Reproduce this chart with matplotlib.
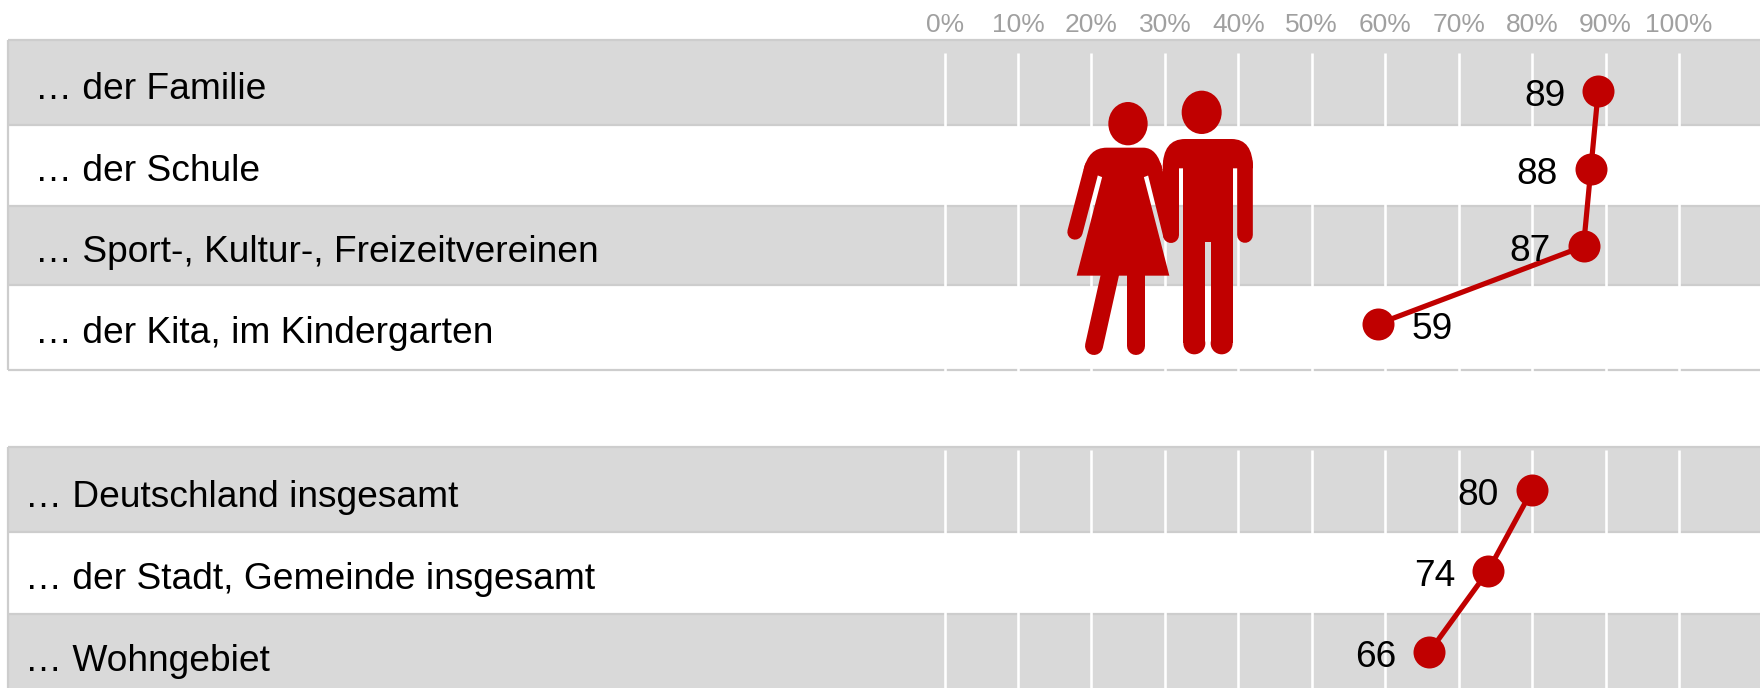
#!/usr/bin/env python3
"""Slope style dot chart: agreement per setting, with a couple pictogram in the middle."""

import matplotlib
matplotlib.use('Agg')
import matplotlib.pyplot as plt
from matplotlib.patches import Ellipse, PathPatch, Polygon
from matplotlib.path import Path
from matplotlib.transforms import Affine2D

# data
top_labels = ['… der Familie', '… der Schule', '… Sport-, Kultur-, Freizeitvereinen',
              '… der Kita, im Kindergarten']
top_values = [89, 88, 87, 59]
bottom_labels = ['… Deutschland insgesamt', '… der Stadt, Gemeinde insgesamt', '… Wohngebiet']
bottom_values = [80, 74, 66]
tick_values = [0, 10, 20, 30, 40, 50, 60, 70, 80, 90, 100]
tick_labels = ['0%', '10%', '20%', '30%', '40%', '50%', '60%', '70%', '80%', '90%', '100%']

# layout, everything in pixels of the 1760x688 picture
W, H = 1760, 688
X0, X100 = 944.6, 1679.0
TOP_EDGES = [40, 125, 206, 285, 370]
BOTTOM_EDGES = [447, 532, 614, 700]
TOP_BASELINES = [99, 181, 262, 343]
BOTTOM_BASELINES = [507, 589, 671]

RED = '#C00000'
GREY = '#D9D9D9'
BORDER = '#CDCDCD'
TICK_GREY = '#A0A0A0'
PX = 0.72  # one pixel in points at dpi 100
LABEL_SIZE = 26.7

plt.rcParams['font.family'] = ['Liberation Sans', 'DejaVu Sans']


def draw_panel(bg, edges, labels, baselines, text_x, grid_top):
    # alternating rows, the first one is grey
    for i in range(len(labels)):
        if i % 2 == 0:
            bg.fill_between([8, W], edges[i], edges[i + 1], color=GREY, lw=0, zorder=1)
    bg.hlines(edges, 8, W, color=BORDER, lw=2.2 * PX, zorder=2)
    bg.vlines(8, edges[0], min(edges[-1], H), color=BORDER, lw=2.2 * PX, zorder=2)
    grid_x = [X0 + (X100 - X0) * t / 100 for t in tick_values]
    bg.vlines(grid_x, grid_top, min(edges[-1] + 2, H), color='white', lw=2.6 * PX, zorder=3)
    for label, y in zip(labels, baselines):
        bg.text(text_x, y, label, fontsize=LABEL_SIZE, color='black', va='baseline', ha='left', zorder=4)


def draw_couple(bg):
    # pictogram outline is in its own coordinates (3x), moved to place by the transform
    tr = Affine2D().scale(1 / 3).translate(1040, 80) + bg.transData
    style = dict(facecolor=RED, edgecolor='none', transform=tr, zorder=5)

    def stroke(xs, ys, width):
        bg.plot(xs, ys, color=RED, lw=width / 3 * PX, solid_capstyle='round', transform=tr, zorder=5)

    # woman
    bg.add_patch(Ellipse((264, 131), 118, 130, **style))
    shoulders = Path([(131, 270), (145, 203), (200, 203), (310, 203), (352, 203), (368, 270),
                      (310, 292), (188, 292), (131, 270)],
                     [Path.MOVETO, Path.CURVE3, Path.CURVE3, Path.LINETO, Path.CURVE3, Path.CURVE3,
                      Path.LINETO, Path.LINETO, Path.CLOSEPOLY])
    bg.add_patch(PathPatch(shoulders, **style))
    bg.add_patch(Polygon([(188, 285), (310, 285), (388, 587), (110, 587)], **style))
    stroke([156, 105], [262, 456], 46)
    stroke([342, 392], [262, 464], 46)
    stroke([214, 162], [565, 798], 54)
    stroke([288, 288], [565, 798], 54)

    # man
    bg.add_patch(Ellipse((485, 97), 120, 130, **style))
    shoulders = Path([(368, 265), (368, 177), (435, 177), (575, 177), (639, 177), (639, 265), (368, 265)],
                     [Path.MOVETO, Path.CURVE3, Path.CURVE3, Path.LINETO, Path.CURVE3, Path.CURVE3, Path.CLOSEPOLY])
    bg.add_patch(PathPatch(shoulders, **style))
    bg.add_patch(Polygon([(430, 260), (578, 260), (578, 485), (430, 485)], **style))
    stroke([392, 392], [250, 464], 48)
    stroke([616, 616], [250, 464], 47)
    # legs: round foot only, the top stays square under the gap
    bg.add_patch(Polygon([(430, 480), (496, 480), (496, 790), (430, 790)], **style))
    bg.add_patch(Polygon([(512, 480), (578, 480), (578, 790), (512, 790)], **style))
    bg.add_patch(Ellipse((463, 790), 66, 66, **style))
    bg.add_patch(Ellipse((545, 790), 66, 66, **style))


def data_axes(fig, y_first, y_last, n):
    # axes runs 0..100 across the grid, rows are 0..n-1 between first and last dot
    step = (y_last - y_first) / (n - 1)
    top_px = y_first - step / 2
    height_px = step * n
    ax = fig.add_axes([X0 / W, 1 - (top_px + height_px) / H, (X100 - X0) / W, height_px / H])
    ax.set_xlim(0, 100)
    ax.set_ylim(n - 0.5, -0.5)
    ax.patch.set_visible(False)
    for spine in ax.spines.values():
        spine.set_visible(False)
    ax.set_yticks([])
    ax.set_xticks([])
    return ax


def draw_series(ax, values, left_side):
    rows = list(range(len(values)))
    ax.plot(values, rows, color=RED, lw=5.2 * PX, marker='o', ms=32 * PX, mew=0,
            clip_on=False, zorder=6)
    for row, value, left in zip(rows, values, left_side):
        if left:
            ax.annotate(str(value), (value, row), xytext=(-33 * PX, -15 * PX), textcoords='offset points',
                        ha='right', va='baseline', fontsize=LABEL_SIZE, color='black', zorder=7)
        else:
            ax.annotate(str(value), (value, row), xytext=(34 * PX, -15 * PX), textcoords='offset points',
                        ha='left', va='baseline', fontsize=LABEL_SIZE, color='black', zorder=7)


fig = plt.figure(figsize=(W / 100, H / 100), dpi=100, facecolor='white')

bg = fig.add_axes([0, 0, 1, 1])
bg.set_xlim(0, W)
bg.set_ylim(H, 0)
bg.axis('off')

draw_panel(bg, TOP_EDGES, top_labels, TOP_BASELINES, 35, 53)
draw_panel(bg, BOTTOM_EDGES, bottom_labels, BOTTOM_BASELINES, 25, 450)
draw_couple(bg)

ax_top = data_axes(fig, 91, 324, len(top_values))
ax_top.xaxis.tick_top()
ax_top.set_xticks(tick_values)
ax_top.set_xticklabels(tick_labels, fontsize=19, color=TICK_GREY)
ax_top.tick_params(axis='x', length=0, pad=11)
draw_series(ax_top, top_values, [True, True, True, False])

ax_bottom = data_axes(fig, 490, 652, len(bottom_values))
draw_series(ax_bottom, bottom_values, [True, True, True])

fig.savefig('out.png', dpi=100)
